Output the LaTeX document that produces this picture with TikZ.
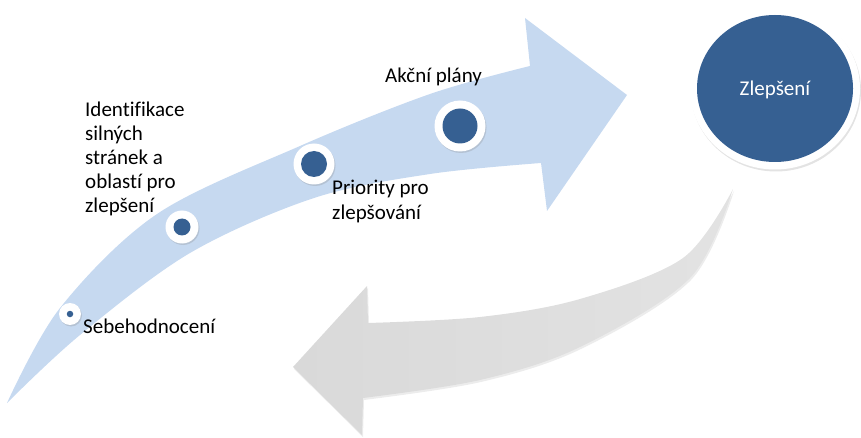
\documentclass[tikz,border=0pt]{standalone}
\usepackage{fontspec}
\setmainfont{Carlito}[Ligatures=NoCommon]
\usetikzlibrary{shadows}
\definecolor{lblue}{RGB}{198,217,240}
\definecolor{dblue}{RGB}{54,96,146}
\definecolor{lgrey}{RGB}{217,217,217}
\tikzset{
  dotring/.style={circle, fill=white, inner sep=0pt, drop shadow={opacity=0.25, shadow xshift=1pt, shadow yshift=-1.5pt}},
  dotcore/.style={circle, fill=dblue, inner sep=0pt},
  lbl/.style={font=\fontsize{21}{24}\selectfont, text=black, align=left, inner sep=0pt, anchor=base west},
}
\begin{document}
\begin{tikzpicture}[x=1pt,y=-1pt]
\useasboundingbox (0,0) rectangle (861,438);
% blue curved arrow
\fill[lblue] plot[smooth, tension=0.55] coordinates {(7,403) (60,308) (157,214) (300,146) (430,94) (530,66)}
  -- (525,18) -- (627,95) -- (547,211) -- (541,163)
  -- plot[smooth, tension=0.55] coordinates {(541,163) (430,174) (314,198) (190,253) (80,335) (7,403)} -- cycle;
% grey curved arrow
\shade[left color=lgrey, right color=lgrey!75!white, shading angle=90,
  drop shadow={opacity=0.15, shadow xshift=1pt, shadow yshift=-2pt}]
  plot[smooth, tension=0.55] coordinates {(733,189) (683,258) (580,299) (480,317) (368,323)}
  -- (367,286) -- (293,367) -- (362,435) -- (363,398)
  -- plot[smooth, tension=0.55] coordinates {(363,398) (480,380) (580,347) (690,278) (733,189)} -- cycle;
% dots
\node[dotring, minimum size=22pt] (r1) at (70,314) {};
\node[dotcore, minimum size=6.5pt] (d1) at (r1) {};
\node[dotring, minimum size=33pt] (r2) at (182,227) {};
\node[dotcore, minimum size=17pt] (d2) at (r2) {};
\node[dotring, minimum size=41pt] (r3) at (314,164) {};
\node[dotcore, minimum size=26pt] (d3) at (r3) {};
\node[dotring, minimum size=51pt] (r4) at (460,126) {};
\node[dotcore, minimum size=35pt] (d4) at (r4) {};
% big circle
\fill[white, drop shadow={opacity=0.22, shadow xshift=1pt, shadow yshift=-2pt}] (775,88.5) ellipse [x radius=85, y radius=81];
\fill[dblue] (775,88.5) ellipse [x radius=78, y radius=73.5];
\node[font=\fontsize{21}{24}\selectfont, text=white, inner sep=0pt] (zl) at (775,90) {Zlepšení};
% labels
\node[lbl] (t1) at (83,333) {Sebehodnocení};
\node[lbl] (t2) at (85,117) {Identifikace};
\node[lbl] (t2b) at (85,141) {silných};
\node[lbl] (t2c) at (85,165) {stránek a};
\node[lbl] (t2d) at (85,189) {oblastí pro};
\node[lbl] (t2e) at (85,213) {zlepšení};
\node[lbl] (t3) at (332,195) {Priority pro};
\node[lbl] (t3b) at (332,219) {zlepšování};
\node[lbl] (t4) at (385,83) {Akční plány};
\end{tikzpicture}
\end{document}
